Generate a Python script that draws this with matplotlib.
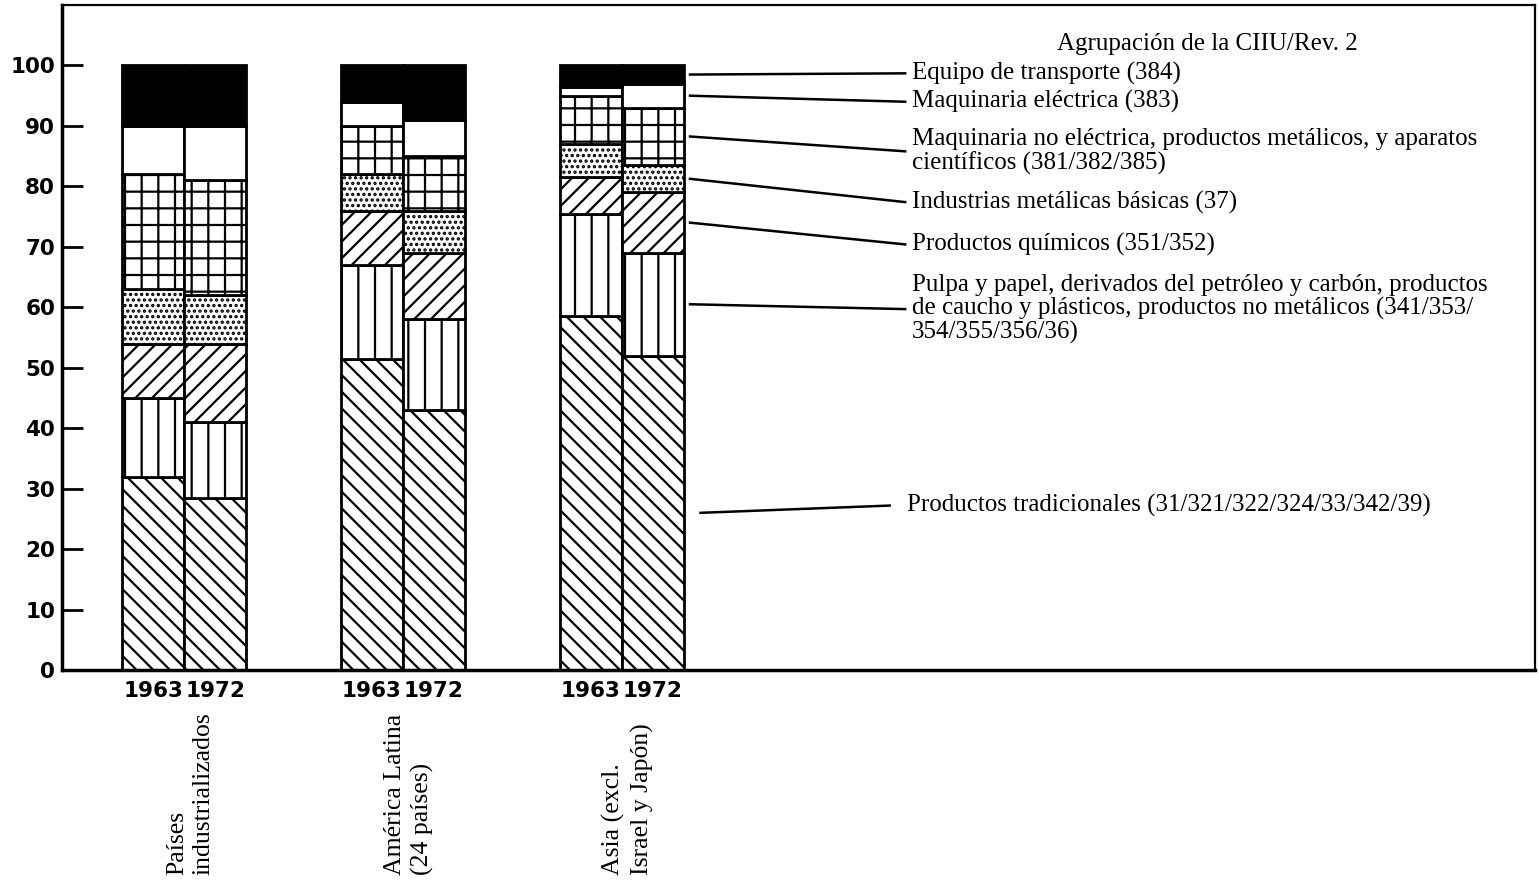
import matplotlib
matplotlib.use('Agg')
import matplotlib.pyplot as plt
import numpy as np

# Datos (porcentajes), orden de barras: P63, P72, AL63, AL72, AS63, AS72
regiones = ['Países\nindustrializados', 'América Latina\n(24 países)', 'Asia (excl.\nIsrael y Japón)']
anios = ['1963', '1972']

tradicionales = [32, 28.5, 51.5, 43, 58.5, 52]
pulpa = [13, 12.5, 15.5, 15, 17, 17]
quimicos = [9, 13, 9, 11, 6, 10]
metalicas = [9, 8, 6, 7, 5.5, 4.5]
maq_no_elec = [19, 19, 8, 9, 8, 9.5]
maq_elec = [8, 9, 4, 6, 1.5, 4]
transporte = [10, 10, 6, 9, 3.5, 3]

series = [tradicionales, pulpa, quimicos, metalicas, maq_no_elec, maq_elec, transporte]
etiquetas = [
    'Productos tradicionales (31/321/322/324/33/342/39)',
    'Pulpa y papel, derivados del petróleo y carbón, productos\n'
    'de caucho y plásticos, productos no metálicos (341/353/\n354/355/356/36)',
    'Productos químicos (351/352)',
    'Industrias metálicas básicas (37)',
    'Maquinaria no eléctrica, productos metálicos, y aparatos\ncientíficos (381/382/385)',
    'Maquinaria eléctrica (383)',
    'Equipo de transporte (384)',
]
titulo_leyenda = 'Agrupación de la CIIU/Rev. 2'

# estilos
hatches = ['\\\\', '|', '//', '...', '+', '', '']
colores = ['white'] * 6 + ['black']
y_texto = [27.2, 59.7, 70.4, 77.4, 85.8, 94.0, 98.7]

plt.rcParams['hatch.linewidth'] = 1.6
serif = 'Liberation Serif'

fig = plt.figure(figsize=(15.39, 8.81), dpi=100)
ax = fig.add_axes([0.0403, 0.2395, 0.9571, 0.7548])

grupo_x = [1.47 + 3.53 * i for i in range(len(regiones))]
x = []
for g in grupo_x:
    x += [g, g + 1.0]
x = np.array(x)

base = np.zeros(len(x))
for vals, h, c in zip(series, hatches, colores):
    ax.bar(x, vals, bottom=base, width=1.0, color=c, edgecolor='black',
           hatch=h, linewidth=2.0)
    base += np.array(vals)

ax.set_xlim(0, 23.76)
ax.set_ylim(0, 110)

# ejes
for s in ['left', 'bottom']:
    ax.spines[s].set_linewidth(2.5)
for s in ['top', 'right']:
    ax.spines[s].set_linewidth(1.6)

ax.set_yticks(range(0, 101, 10))
ax.set_yticks([50, 100], minor=True)
ax.tick_params(axis='y', which='major', direction='in', length=15, width=2, pad=5)
ax.tick_params(axis='y', which='minor', direction='in', length=22, width=2)
for t in ax.get_yticklabels():
    t.set_fontweight('bold')
    t.set_fontsize(15.5)

ax.set_xticks(x)
ax.set_xticklabels(anios * len(regiones), fontsize=15.5, fontweight='bold')
ax.tick_params(axis='x', length=0, pad=8)

# nombres de regiones (verticales)
trans = matplotlib.transforms.blended_transform_factory(ax.transData, ax.transAxes)
for g, nombre in zip(grupo_x, regiones):
    ax.text(g + 0.6, -0.308, nombre, transform=trans, rotation=90,
            ha='center', va='bottom', multialignment='left',
            fontsize=18.5, family=serif, linespacing=1.3)

# leyenda con líneas indicadoras
ultima = len(x) - 1
bottom = 0
for vals, lab, yt in zip(series, etiquetas, y_texto):
    y0 = bottom + vals[ultima] / 2
    bottom += vals[ultima]
    x_ini, x_fin, x_txt = 10.13, 13.6, 13.71
    if lab.startswith('Productos tradicionales'):
        x_ini, x_fin, x_txt = 10.3, 13.35, 13.63
    ax.plot([x_ini, x_fin], [y0, yt], color='black', lw=1.8, clip_on=False)
    ax.text(x_txt, yt, lab, ha='left', va='center', fontsize=18,
            family=serif, linespacing=1.07)

ax.text(18.48, 103.5, titulo_leyenda, ha='center', va='center',
        fontsize=18, family=serif)

plt.savefig('out.png', dpi=100)
